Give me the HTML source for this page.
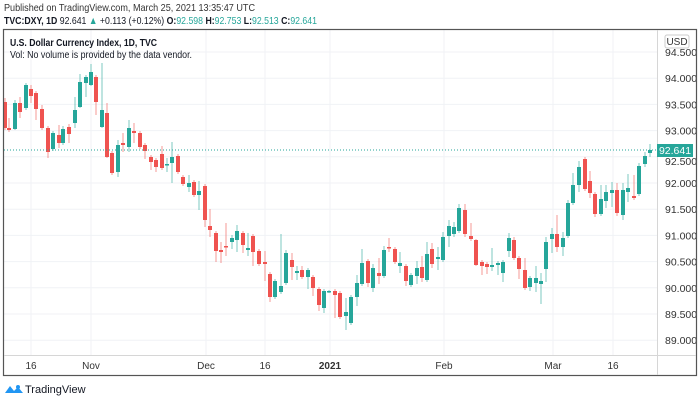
<!DOCTYPE html>
<html><head><meta charset="utf-8"><style>
body{margin:0;width:700px;height:401px;background:#fff;overflow:hidden;font-family:"Liberation Sans",sans-serif}
svg{position:absolute;left:0;top:0}
</style></head><body>
<svg id="s" width="700" height="401" xmlns="http://www.w3.org/2000/svg" font-family="Liberation Sans, sans-serif">
<text x="4" y="11" font-size="10.5" fill="#333" textLength="251" lengthAdjust="spacingAndGlyphs">Published on TradingView.com, March 25, 2021 13:35:47 UTC</text>
<text x="4" y="24" font-size="10.5" fill="#131722" textLength="313" lengthAdjust="spacingAndGlyphs"><tspan font-weight="bold">TVC:DXY, 1D</tspan> 92.641 <tspan fill="#26a69a">▲</tspan> +0.113 (+0.12%) <tspan font-weight="bold">O:</tspan><tspan fill="#26a69a">92.598</tspan> <tspan font-weight="bold">H:</tspan><tspan fill="#26a69a">92.753</tspan> <tspan font-weight="bold">L:</tspan><tspan fill="#26a69a">92.513</tspan> <tspan font-weight="bold">C:</tspan><tspan fill="#26a69a">92.641</tspan></text>
<g id="grid"></g>
<g id="c"></g>
<rect x="3.5" y="29.5" width="693" height="346" fill="none" stroke="#555" stroke-width="1.2"/>
<line x1="657.5" y1="30" x2="657.5" y2="375" stroke="#d6d6d6"/>
<line x1="4" y1="355.5" x2="696" y2="355.5" stroke="#d6d6d6"/>
<text x="10" y="46" font-size="10" font-weight="bold" fill="#131722" textLength="147" lengthAdjust="spacingAndGlyphs">U.S. Dollar Currency Index, 1D, TVC</text>
<text x="10" y="58" font-size="10" fill="#131722" textLength="182" lengthAdjust="spacingAndGlyphs">Vol: No volume is provided by the data vendor.</text>
<rect x="665" y="35" width="24" height="13" rx="2" fill="#fff" stroke="#ccc"/>
<text x="677" y="45" font-size="10" fill="#333" text-anchor="middle">USD</text>
<line x1="4" y1="150" x2="657" y2="150" stroke="#26a69a" stroke-dasharray="1,2"/>
<rect x="657" y="144" width="36" height="13" fill="#26a69a"/>
<text x="675" y="154" font-size="10.5" fill="#fff" text-anchor="middle">92.641</text>
<g font-size="10" fill="#333" text-anchor="middle">
<text x="31" y="369">16</text><text x="91" y="369">Nov</text><text x="206" y="369">Dec</text><text x="265" y="369">16</text>
<text x="330" y="369" font-weight="bold">2021</text><text x="444" y="369">Feb</text><text x="553" y="369">Mar</text><text x="613" y="369">16</text>
</g>
<g transform="translate(5,383)"><path d="M0 10 L5 3 L9 8 L13 4 L18 10 Z" fill="#2196f3"/><circle cx="13" cy="4" r="2" fill="#2196f3"/></g>
<text x="25" y="393" font-size="11" fill="#131722">TradingView</text>
</svg>
<script>
var ns="http://www.w3.org/2000/svg",g=document.getElementById('grid'),c=document.getElementById('c');
function el(p,t,a){var e=document.createElementNS(ns,t);for(var k in a)e.setAttribute(k,a[k]);p.appendChild(e);return e;}
var labs=["94.500","94.000","93.500","93.000","92.500","92.000","91.500","91.000","90.500","90.000","89.500","89.000"];
for(var i=0;i<12;i++){var y=52+i*26.2;el(g,'line',{x1:4,x2:657,y1:y,y2:y,stroke:'#f0f2f6'});
 if(i!=4){var t=el(g,'text',{x:665,y:y+4,'font-size':10.5,fill:'#333'});t.textContent=labs[i];}
 else{var t=el(g,'text',{x:665,y:y+8,'font-size':10.5,fill:'#333'});t.textContent=labs[i];}}
[31,91,206,265,330,444,553,613].forEach(function(x){el(g,'line',{x1:x,x2:x,y1:30,y2:355,stroke:'#f0f2f6'});});
var d=[
[5,102,128,'r',98,130],[9,128,130,'r',118,132],[15,103,129,'g',100,130],[20,103,112,'r',97,118],[26,85,108,'g',83,110],
[31,89,96,'r',85,103],[36,93,109,'r',91,120],[42,109,128,'r',105,130],[48,128,152,'r',126,158],[53,133,149,'g',131,151],
[59,135,143,'r',125,148],[63,129,143,'g',126,145],[69,127,134,'r',124,143],[75,110,123,'g',97,128],[80,82,107,'g',74,108],
[86,77,83,'g',75,97],[91,72,85,'g',64,86],[96,77,102,'r',75,115],[102,110,127,'g',63,128],[107,113,157,'r',103,158],
[112,153,173,'r',151,175],[118,145,172,'g',140,177],[123,143,145,'r',133,152],[129,128,147,'g',120,152],[134,131,133,'r',123,143],
[140,133,147,'r',131,149],[145,145,151,'r',143,159],[151,157,162,'r',155,170],[156,160,167,'r',158,172],[162,154,168,'r',146,170],
[167,164,165,'g',158,172],[172,157,163,'g',142,183],[178,156,172,'r',154,174],[183,177,184,'r',175,186],[189,183,187,'g',175,192],
[194,182,195,'r',180,197],[199,191,195,'g',181,210],[205,186,220,'r',184,227],[210,226,230,'r',209,237],[216,233,251,'r',231,262],
[221,250,252,'r',242,263],[226,246,247,'r',223,256],[232,238,242,'g',235,249],[237,231,240,'g',225,252],[243,233,245,'r',231,253],
[248,248,250,'g',233,256],[253,236,252,'r',234,266],[259,251,264,'r',249,266],[265,262,264,'r',251,281],[270,274,297,'r',272,302],
[275,281,297,'g',279,299],[281,286,292,'g',234,294],[286,253,283,'g',250,285],[292,260,267,'r',253,280],[297,271,273,'g',266,280],
[302,270,277,'r',266,279],[308,270,277,'g',268,289],[313,277,288,'r',275,296],[319,289,305,'r',287,311],[324,291,308,'g',289,313],
[329,291,292,'g',290,293],[335,291,295,'r',289,318],[340,293,317,'r',291,319],[346,312,316,'g',298,330],[351,297,323,'g',295,325],
[357,283,297,'g',275,306],[362,263,284,'g',249,286],[368,261,283,'r',259,287],[373,268,288,'g',264,292],[379,273,276,'r',258,284],
[384,250,276,'g',246,278],[389,247,248,'r',238,252],[395,249,262,'r',247,264],[400,263,266,'g',252,273],[406,266,281,'r',264,286],
[411,275,285,'g',273,287],[417,268,276,'g',261,284],[422,267,278,'r',256,282],[427,254,280,'g',242,282],[432,249,264,'r',243,268],
[438,257,259,'g',247,270],[443,237,260,'g',232,262],[449,226,236,'g',220,247],[454,227,234,'g',222,237],[459,208,231,'g',204,233],
[465,210,234,'r',204,237],[471,236,239,'r',223,241],[476,240,265,'r',239,266],[482,262,266,'r',260,275],[487,264,267,'r',262,274],
[492,265,267,'g',248,271],[498,263,265,'g',261,275],[503,262,273,'g',260,282],[509,238,251,'g',233,257],[514,240,258,'r',237,260],
[519,258,269,'r',256,279],[525,270,288,'r',258,290],[530,278,287,'g',276,291],[536,278,283,'g',266,292],[541,281,284,'g',273,304],
[546,242,269,'g',237,282],[552,234,239,'g',228,253],[557,234,247,'r',215,252],[563,238,247,'g',232,256],[568,203,236,'g',200,238],
[573,185,203,'g',173,205],[579,167,185,'g',161,192],[585,159,189,'r',157,191],[590,181,193,'r',171,198],[595,194,214,'r',192,217],
[601,199,214,'g',185,216],[606,192,201,'g',185,208],[612,190,193,'g',182,207],[617,190,213,'r',183,216],[623,190,215,'g',183,220],
[628,188,192,'g',174,202],[634,196,198,'r',175,200],[639,166,194,'g',163,196],[645,156,164,'g',152,167],[650,150,153,'g',144,157]];
d.forEach(function(k){var col=k[3]=='g'?'#26a69a':'#ef5350';
 el(c,'line',{x1:k[0],x2:k[0],y1:k[4],y2:k[5],stroke:col,'stroke-opacity':0.6,'stroke-width':1});
 el(c,'rect',{x:k[0]-2,y:k[1],width:4,height:Math.max(1.5,k[2]-k[1]),fill:col});});
</script>
</body></html>
